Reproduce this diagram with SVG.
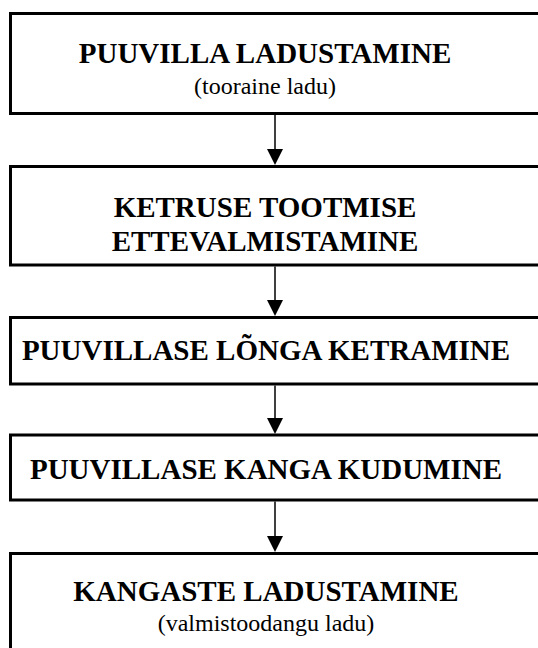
<svg xmlns="http://www.w3.org/2000/svg" width="538" height="648" viewBox="0 0 538 648">
<style>
.box{fill:#fff;stroke:#000;stroke-width:3}
.b{font-family:"Liberation Serif","Times New Roman",serif;font-weight:bold;font-size:29px;fill:#000;text-anchor:middle}
.r{font-family:"Liberation Serif","Times New Roman",serif;font-size:24px;fill:#000;text-anchor:middle}
.ln{stroke:#000;stroke-width:1.5;fill:none}
.hd{fill:#000}
</style>
<rect width="538" height="648" fill="#fff"/>
<g id="n1"><rect class="box" x="10.5" y="13.5" width="540" height="100"/><text class="b" x="265" y="63">PUUVILLA LADUSTAMINE</text><text class="r" x="265" y="94">(tooraine ladu)</text></g>
<g id="n2"><rect class="box" x="10.5" y="166.5" width="540" height="98.5"/><text class="b" x="265" y="217">KETRUSE TOOTMISE</text><text class="b" x="265" y="251">ETTEVALMISTAMINE</text></g>
<g id="n3"><rect class="box" x="10.5" y="317.5" width="540" height="66.5"/><text class="b" x="266" y="360">PUUVILLASE LÕNGA KETRAMINE</text></g>
<g id="n4"><rect class="box" x="10.5" y="435" width="540" height="65"/><text class="b" x="266" y="479">PUUVILLASE KANGA KUDUMINE</text></g>
<g id="n5"><rect class="box" x="10.5" y="553.5" width="540" height="110"/><text class="b" x="266" y="601">KANGASTE LADUSTAMINE</text><text class="r" x="266" y="631">(valmistoodangu ladu)</text></g>
<g id="connectors">
<line class="ln" x1="275" y1="115" x2="275" y2="150"/><polygon class="hd" points="267,149 283,149 275,165"/>
<line class="ln" x1="275" y1="266.5" x2="275" y2="301"/><polygon class="hd" points="267,300 283,300 275,316"/>
<line class="ln" x1="275" y1="385.5" x2="275" y2="419"/><polygon class="hd" points="267,418 283,418 275,434"/>
<line class="ln" x1="275" y1="501.5" x2="275" y2="537"/><polygon class="hd" points="267,536 283,536 275,552"/>
</g>
</svg>
